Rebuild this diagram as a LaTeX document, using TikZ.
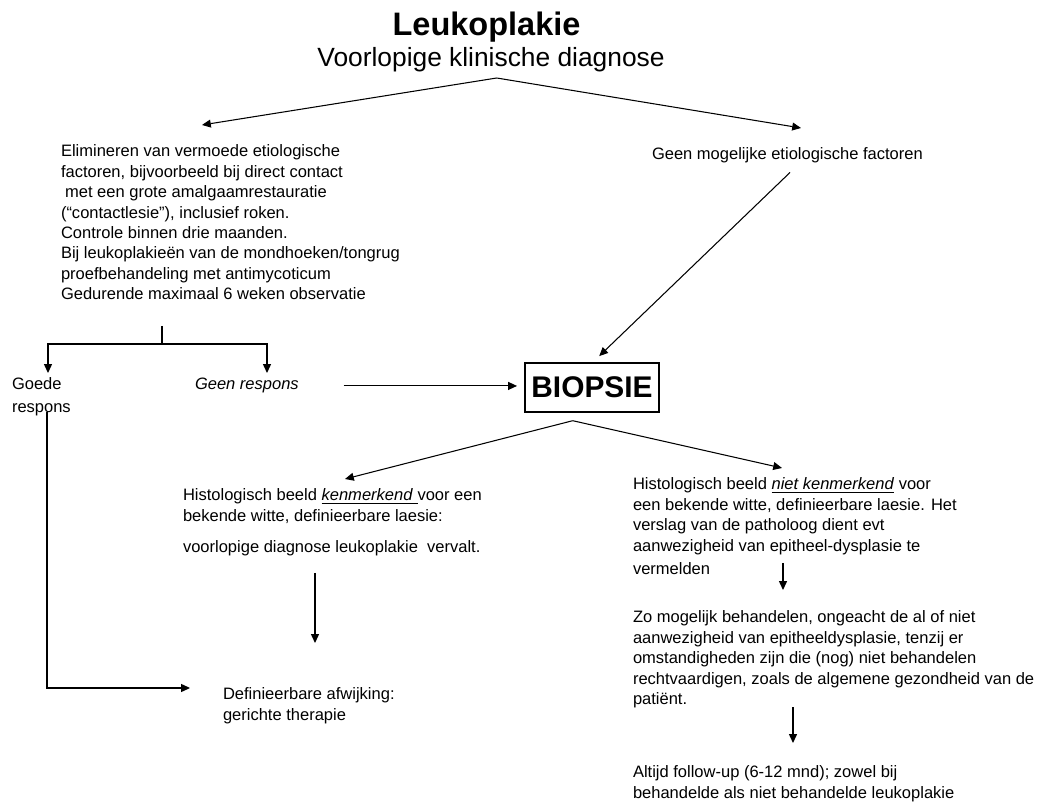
\documentclass[tikz,border=0pt]{standalone}
\usepackage{fontspec}
\setmainfont{Liberation Sans}
\usetikzlibrary{arrows.meta,positioning,calc}

\begin{document}
\begin{tikzpicture}[
  x=0.02cm, y=-0.02cm,
  >={Triangle[length=5pt,width=4.5pt]},
  every node/.style={inner sep=0pt, outer sep=0pt},
  txt/.style={font=\fontsize{9.4}{11.6}\selectfont, align=left, anchor=north west},
  conn/.style={->, line width=0.6pt},
  plain/.style={line width=0.6pt},
  bigbox/.style={draw, line width=0.6pt, minimum width=2.68cm, minimum height=0.98cm, font=\bfseries\fontsize{17}{20}\selectfont}
]
  \useasboundingbox (0,0) rectangle (1045,803);

  % Heading
  \node[font=\bfseries\fontsize{18.5}{22}\selectfont, anchor=base] (title) at (486.5,36) {Leukoplakie};
  \node[font=\fontsize{15}{18}\selectfont, anchor=base] (subtitle) at (491,67) {Voorlopige klinische diagnose};

  % First split
  \node[txt] (elim) at (61,145) {Elimineren van vermoede etiologische\\
    factoren, bijvoorbeeld bij direct contact\\
    \hspace{0.25em}met een grote amalgaamrestauratie\\
    (“contactlesie”), inclusief roken.\\
    Controle binnen drie maanden.\\
    Bij leukoplakieën van de mondhoeken/tongrug\\
    proefbehandeling met antimycoticum\\
    Gedurende maximaal 6 weken observatie};
  \node[txt, anchor=base west] (geenfact) at (652,160) {Geen mogelijke etiologische factoren};

  % Response
  \node[txt] (goede) at (12,378) {Goede\\[1.5pt]respons};
  \node[txt, anchor=base west, font=\fontsize{9.4}{11.6}\selectfont\itshape] (geenresp) at (195,390) {Geen respons};
  \node[bigbox] (biopsie) at (592,387.5) {BIOPSIE};

  % Histology
  \node[txt] (histkenm) at (183,489) {Histologisch beeld \underline{\textit{kenmerkend}\ }voor een\\
    bekende witte, definieerbare laesie:\\[6pt]
    voorlopige diagnose leukoplakie\ \ vervalt.};
  \node[txt] (histniet) at (633,478) {Histologisch beeld \underline{\textit{niet kenmerkend}} voor\\
    een bekende witte, definieerbare laesie. Het\\
    verslag van de patholoog dient evt\\
    aanwezigheid van epitheel-dysplasie te\\[1.5pt]
    vermelden};
  \node[txt] (behandel) at (633,611) {Zo mogelijk behandelen, ongeacht de al of niet\\
    aanwezigheid van epitheeldysplasie, tenzij er\\
    omstandigheden zijn die (nog) niet behandelen\\
    rechtvaardigen, zoals de algemene gezondheid van de\\
    patiënt.};
  \node[txt] (followup) at (633,766) {Altijd follow-up (6-12 mnd); zowel bij\\
    behandelde als niet behandelde leukoplakie};
  \node[txt] (definafw) at (223,688) {Definieerbare afwijking:\\gerichte therapie};

  % Junctions and arrow ends
  \coordinate (split) at (496.7,78);
  \coordinate (elimIn) at (202,125);
  \coordinate (factIn) at (801,128);
  \coordinate (elimOut) at (162,326);
  \coordinate (fork) at (162,344);
  \coordinate (goedeIn) at (48,373);
  \coordinate (geenrespIn) at (267,373);
  \coordinate (goedeOut) at (47,412);
  \coordinate (definIn) at (190,688);
  \coordinate (splitB) at (572.7,420.7);
  \coordinate (kenmIn) at (345,479);
  \coordinate (nietIn) at (782,468);
  \coordinate (kenmOut) at (315,573);
  \coordinate (kenmEnd) at (315,643);
  \coordinate (nietOut) at (783,563);
  \coordinate (behIn) at (783,590);
  \coordinate (behOut) at (793,707);
  \coordinate (followIn) at (793,743);

  % Connectors
  \draw[conn] (split) -- (elimIn);
  \draw[conn] (split) -- (factIn);
  \draw[conn, shorten <=0.26cm, shorten >=0.2cm] ([xshift=0.24cm]geenfact.south) -- (biopsie.north);
  \draw[plain] (elimOut) -- (fork);
  \draw[conn] (fork) -| (goedeIn);
  \draw[conn] (fork) -| (geenrespIn);
  \draw[conn, shorten <=0.9cm, shorten >=0.16cm] (geenresp.east) -- (biopsie.west |- geenresp.east);
  \draw[conn] (goedeOut) |- (definIn);
  \draw[conn] (splitB) -- (kenmIn);
  \draw[conn] (splitB) -- (nietIn);
  \draw[conn] (kenmOut) -- (kenmEnd);
  \draw[conn] (nietOut) -- (behIn);
  \draw[conn] (behOut) -- (followIn);
\end{tikzpicture}
\end{document}
